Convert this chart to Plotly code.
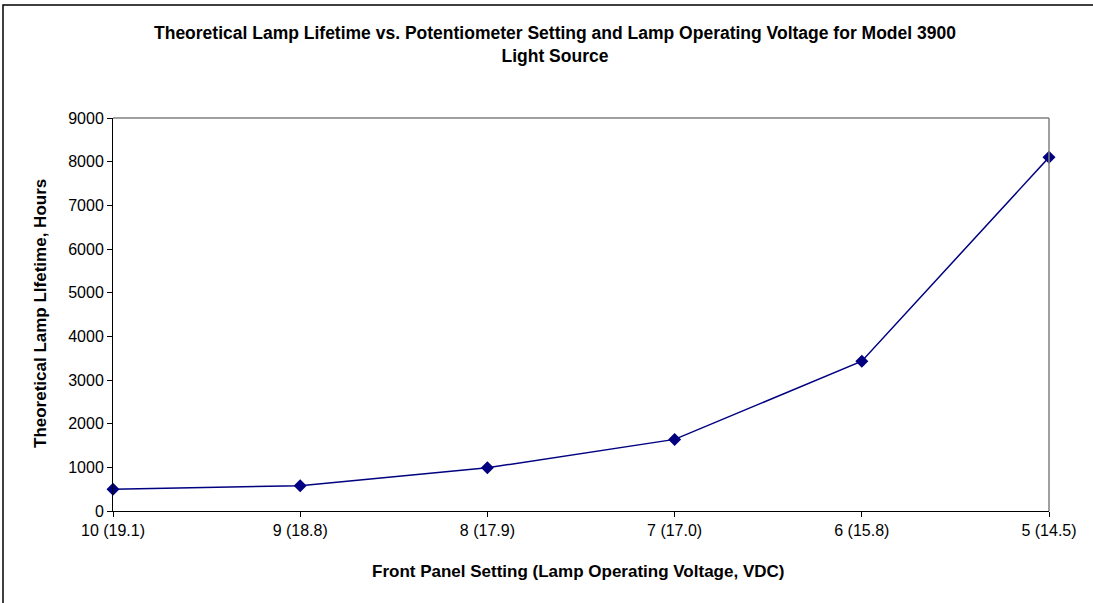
import plotly.graph_objects as go

categories = ["10 (19.1)", "9 (18.8)", "8 (17.9)", "7 (17.0)", "6 (15.8)", "5 (14.5)"]
lifetime_hours = [500, 580, 990, 1640, 3430, 8100]
y_ticks = [0, 1000, 2000, 3000, 4000, 5000, 6000, 7000, 8000, 9000]

title_text = ("Theoretical Lamp Lifetime vs. Potentiometer Setting and Lamp Operating Voltage for Model 3900"
              "<br>Light Source")
x_title = "Front Panel Setting (Lamp Operating Voltage, VDC)"
y_title = "Theoretical Lamp LIfetime, Hours"

FONT = "Liberation Sans, Arial, sans-serif"
NAVY = "#000080"

W, H = 1093, 603
L, R, T, B = 113, 44, 118, 92
pw, ph = W - L - R, H - T - B

x_idx = list(range(len(categories)))

fig = go.Figure()
fig.add_trace(go.Scatter(
    x=x_idx, y=lifetime_hours, mode="lines+markers",
    line=dict(color=NAVY, width=1.5),
    marker=dict(symbol="diamond", size=10, color=NAVY),
    cliponaxis=False, showlegend=False,
))

def px_x(p):
    return (p - L) / pw

def px_y(p):
    return (H - B - p) / ph

fig.update_layout(
    width=W, height=H,
    margin=dict(l=L, r=R, t=T, b=B),
    paper_bgcolor="white", plot_bgcolor="white",
    font=dict(family=FONT, size=16, color="black"),
    xaxis=dict(
        range=[0, len(categories) - 1], tickvals=x_idx, ticktext=categories,
        showgrid=False, zeroline=False, showline=True, linecolor="black", linewidth=1,
        ticks="outside", ticklen=5, tickcolor="black",
        tickfont=dict(family=FONT, size=16),
    ),
    yaxis=dict(
        range=[0, 9000], tickvals=y_ticks,
        showgrid=False, zeroline=False, showline=True, linecolor="black", linewidth=1,
        ticks="outside", ticklen=5, tickcolor="black",
        tickfont=dict(family=FONT, size=16),
    ),
    shapes=[
        dict(type="line", xref="paper", yref="paper", x0=0, x1=1, y0=1, y1=1,
             line=dict(color="#808080", width=1.5)),
        dict(type="line", xref="paper", yref="paper", x0=1, x1=1, y0=0, y1=1,
             line=dict(color="#808080", width=1.5)),
        dict(type="rect", xref="paper", yref="paper",
             x0=px_x(3), x1=px_x(W + 20), y0=px_y(H + 20), y1=px_y(5),
             line=dict(color="black", width=1.5), layer="below"),
    ],
    annotations=[
        dict(text="<b>" + title_text + "</b>", xref="paper", yref="paper",
             x=px_x(555), y=px_y(44), xanchor="center", yanchor="middle",
             showarrow=False, font=dict(family=FONT, size=17.5), align="center"),
        dict(text="<b>" + x_title + "</b>", xref="paper", yref="paper",
             x=px_x(578), y=px_y(571), xanchor="center", yanchor="middle",
             showarrow=False, font=dict(family=FONT, size=17)),
        dict(text="<b>" + y_title + "</b>", xref="paper", yref="paper",
             x=px_x(40), y=px_y(314), xanchor="center", yanchor="middle",
             textangle=-90, showarrow=False, font=dict(family=FONT, size=17)),
    ],
)

fig.write_html("out.html", config={"displayModeBar": False},
               post_script="document.body.style.margin='0';")
